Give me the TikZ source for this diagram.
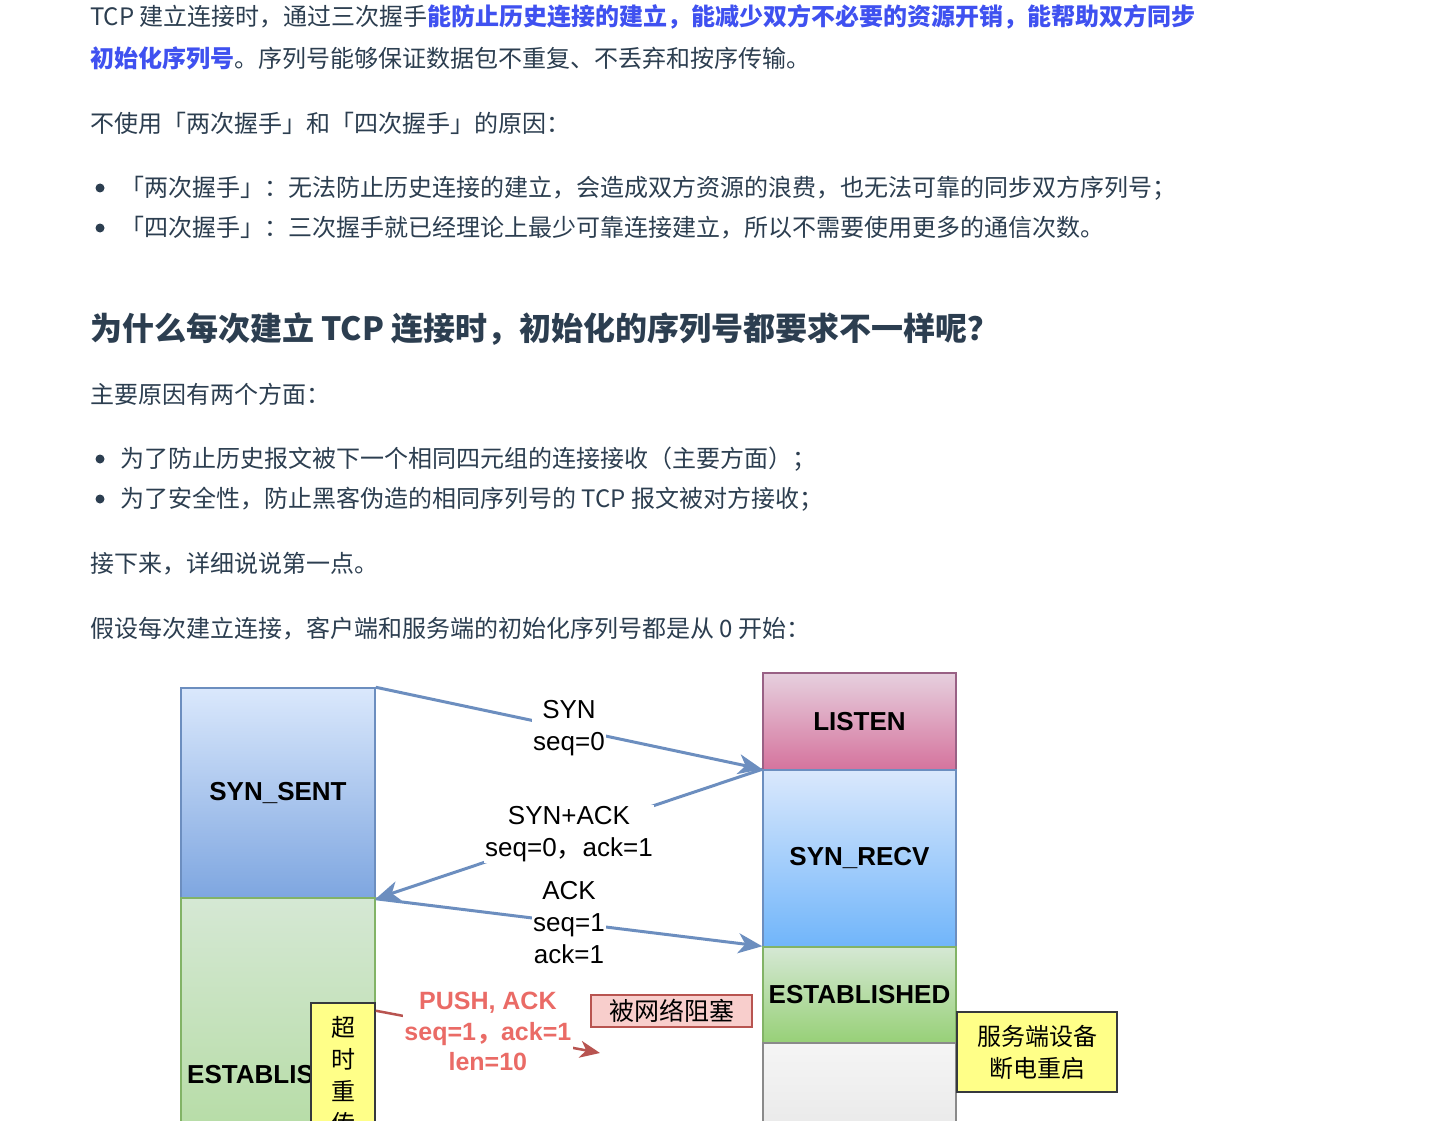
\documentclass[tikz,border=0pt]{standalone}
\usepackage{fontspec}
\setmainfont{Noto Sans CJK SC}
\newfontfamily\cjkfont{Noto Sans CJK SC}
\newfontfamily\diagfont{Liberation Sans}
\usepackage{xcolor}
\usetikzlibrary{arrows.meta, positioning}

\definecolor{textgray}{HTML}{2C3E50}
\definecolor{linkblue}{HTML}{3F51F0}
\definecolor{flowblue}{HTML}{6C8EBF}
\definecolor{pushred}{HTML}{EA6B66}
\definecolor{darkred}{HTML}{B85450}
\definecolor{notegray}{HTML}{36393D}
\definecolor{noteyellow}{HTML}{FFFF88}
\definecolor{blocked}{HTML}{F8CECC}
\definecolor{bluetop}{HTML}{DAE8FC}
\definecolor{bluebot}{HTML}{7EA6E0}
\definecolor{skybot}{HTML}{70B5FA}
\definecolor{pinktop}{HTML}{E6D0DE}
\definecolor{pinkbot}{HTML}{D5739D}
\definecolor{pinkline}{HTML}{996185}
\definecolor{greentop}{HTML}{D5E8D4}
\definecolor{greenbot}{HTML}{97D077}
\definecolor{greenline}{HTML}{82B366}
\definecolor{graytop}{HTML}{F5F5F5}
\definecolor{graybot}{HTML}{E0E0E0}
\definecolor{grayline}{HTML}{8A8A8A}

\begin{document}
\begin{tikzpicture}[
    x=1pt, y=-1pt,
    para/.style={anchor=west, inner sep=0pt, text=textgray, font=\fontsize{24}{30}\selectfont},
    heading/.style={anchor=west, inner sep=0pt, text=textgray, font=\bfseries\fontsize{32}{40}\selectfont},
    dot/.style={circle, fill=textgray, inner sep=0pt, minimum size=9pt},
    stbox/.style={rectangle, draw, line width=1.5pt, inner sep=0pt, minimum width=194pt, font=\diagfont\bfseries\fontsize{26}{30}\selectfont},
    notebox/.style={rectangle, draw=notegray, fill=noteyellow, line width=1.5pt, inner sep=0pt, align=center, font=\cjkfont\fontsize{24}{32}\selectfont},
    msg/.style={fill=white, inner sep=1.5pt, align=center, font=\diagfont\fontsize{26}{32}\selectfont},
    pushmsg/.style={msg, text=pushred, font=\diagfont\bfseries\fontsize{25}{30.5}\selectfont},
    flow/.style={draw=flowblue, line width=3pt, -{Stealth[length=24pt, width=20pt, inset=7pt]}},
    push/.style={draw=darkred, line width=2.5pt, -{Stealth[length=20pt, width=17pt, inset=6pt]}}
]
    \fill[white] (0,0) rectangle (1436,1121);
    \useasboundingbox (0,0) rectangle (1436,1121);

    % Article text
    \node[para] (p1) at (90,17) {TCP 建立连接时，通过三次握手{\bfseries\color{linkblue}能防止历史连接的建立，能减少双方不必要的资源开销，能帮助双方同步}};
    \node[para] (p2) at (90,58) {{\bfseries\color{linkblue}初始化序列号}。序列号能够保证数据包不重复、不丢弃和按序传输。};
    \node[para] (why) at (90,123) {不使用「两次握手」和「四次握手」的原因：};
    \node[dot] (d1) at (100,188) {};
    \node[para] (two) at (120,188) {「两次握手」：无法防止历史连接的建立，会造成双方资源的浪费，也无法可靠的同步双方序列号；};
    \node[dot] (d2) at (100,228) {};
    \node[para] (four) at (120,228) {「四次握手」：三次握手就已经理论上最少可靠连接建立，所以不需要使用更多的通信次数。};

    \node[heading] (h2) at (90,329) {为什么每次建立 TCP 连接时，初始化的序列号都要求不一样呢？};
    \node[para] (main) at (90,394) {主要原因有两个方面：};
    \node[dot] (d3) at (100,459) {};
    \node[para] (r1) at (120,459) {为了防止历史报文被下一个相同四元组的连接接收（主要方面）；};
    \node[dot] (d4) at (100,499) {};
    \node[para] (r2) at (120,499) {为了安全性，防止黑客伪造的相同序列号的 TCP 报文被对方接收；};
    \node[para] (next) at (90,564) {接下来，详细说说第一点。};
    \node[para] (assume) at (90,629) {假设每次建立连接，客户端和服务端的初始化序列号都是从 0 开始：};

    % Client states
    \node[stbox, minimum height=210pt, draw=flowblue, top color=bluetop, bottom color=bluebot] (sent) at (278,793) {SYN\_SENT};
    \node[stbox, minimum height=354pt, draw=greenline, top color=greentop, bottom color=greenbot!75!greentop] (estc) at (278,1075) {ESTABLISHED};
    \node[notebox, minimum width=64pt, minimum height=144pt] (timeout) at (343,1075) {超\\时\\重\\传};

    % Server states
    \node[stbox, minimum width=193pt, minimum height=97pt, draw=pinkline, top color=pinktop, bottom color=pinkbot] (listen) at (859.5,721.5) {LISTEN};
    \node[stbox, minimum width=193pt, minimum height=177pt, draw=flowblue, top color=bluetop, bottom color=skybot] (recv) at (859.5,858.5) {SYN\_RECV};
    \node[stbox, minimum width=193pt, minimum height=96pt, draw=greenline, top color=greentop, bottom color=greenbot] (ests) at (859.5,995) {ESTABLISHED};
    \node[stbox, minimum width=193pt, minimum height=157pt, draw=grayline, top color=graytop, bottom color=graybot] (down) at (859.5,1121.5) {};
    \node[notebox, minimum width=160pt, minimum height=80pt] (restart) at (1037,1052) {服务端设备\\断电重启};
    \node[rectangle, draw=darkred, fill=blocked, line width=1.5pt, minimum width=161pt, minimum height=32pt, inner sep=0pt, font=\cjkfont\fontsize{25}{30}\selectfont] (block) at (671.5,1011) {被网络阻塞};

    % Connections
    \draw[flow] (sent.north east) -- node[msg] {SYN\\seq=0} (recv.north west);
    \draw[flow] (recv.north west) -- node[msg] {SYN+ACK\\seq=0{\cjkfont，}ack=1} (sent.south east);
    \draw[flow] (sent.south east) -- node[msg] {ACK\\seq=1\\ack=1} (ests.north west);

    \coordinate (lost) at (600,1053);
    \draw[push] (timeout.63) -- node[pushmsg] {PUSH, ACK\\seq=1{\cjkfont\bfseries ，}ack=1\\len=10} (lost);
\end{tikzpicture}
\end{document}
